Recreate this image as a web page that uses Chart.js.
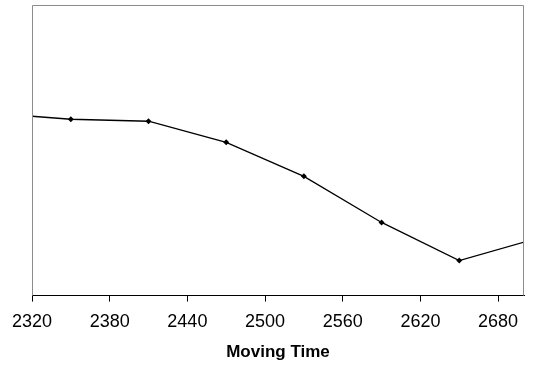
<!DOCTYPE html>
<html>
<head>
<meta charset="utf-8">
<script src="https://cdn.jsdelivr.net/npm/chart.js@4/dist/chart.umd.min.js"></script>
<style>
html,body{margin:0;padding:0;background:#fff;}
#wrap{width:536px;height:371px;}
</style>
</head>
<body>
<div id="wrap"><canvas id="c" width="536" height="371"></canvas></div>
<script>
const movingTimes = [2290, 2350, 2410, 2470, 2530, 2590, 2650, 2710];
const seriesValues = [182, 176, 174, 153, 119, 73, 35, 57];
const xTickLabels = [2320, 2380, 2440, 2500, 2560, 2620, 2680];
const xTitle = "Moving Time";

const points = movingTimes.map((t, i) => ({x: t, y: seriesValues[i]}));

const framePlugin = {
  id: 'frame',
  afterDraw(chart) {
    const {ctx, chartArea: a} = chart;
    ctx.save();
    ctx.strokeStyle = '#8c8c8c';
    ctx.lineWidth = 1;
    ctx.beginPath();
    ctx.moveTo(a.left + 0.5, a.bottom);
    ctx.lineTo(a.left + 0.5, a.top + 0.5);
    ctx.lineTo(a.right - 0.5, a.top + 0.5);
    ctx.lineTo(a.right - 0.5, a.bottom);
    ctx.stroke();
    ctx.restore();
  }
};

new Chart(document.getElementById('c'), {
  type: 'line',
  data: {
    datasets: [{
      data: points,
      borderColor: '#000',
      backgroundColor: '#000',
      borderWidth: 1.3,
      pointStyle: 'rectRot',
      pointRadius: 3,
      pointBorderWidth: 0,
      fill: false,
      tension: 0
    }]
  },
  options: {
    responsive: false,
    animation: false,
    events: [],
    layout: {padding: {left: 32, right: 12, top: 5, bottom: 8}},
    plugins: {legend: {display: false}, tooltip: {enabled: false}},
    scales: {
      x: {
        type: 'linear',
        min: 2320,
        max: 2700,
        afterBuildTicks(scale) {
          scale.ticks = xTickLabels.map(v => ({value: v}));
        },
        ticks: {
          color: '#000',
          font: {family: 'Liberation Sans', size: 18, lineHeight: 1.0},
          padding: 11,
          maxRotation: 0,
          callback: v => String(v)
        },
        grid: {display: true, drawOnChartArea: false, drawTicks: true, tickLength: 6, color: '#000', lineWidth: 1},
        border: {display: true, color: '#000', width: 1},
        title: {
          display: true,
          text: xTitle,
          color: '#000',
          font: {family: 'Liberation Sans', size: 17, weight: 'bold'},
          padding: {top: 1, bottom: 0}
        }
      },
      y: {
        display: false,
        min: 0,
        max: 290
      }
    }
  },
  plugins: [framePlugin]
});
</script>
</body>
</html>
